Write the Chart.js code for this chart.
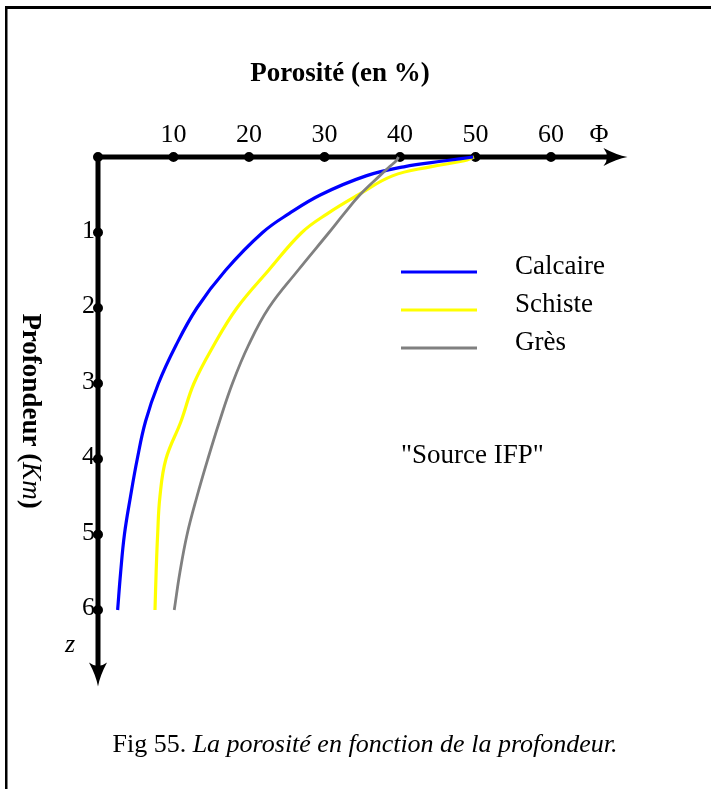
<!DOCTYPE html>
<html>
<head>
<meta charset="utf-8">
<script src="https://cdn.jsdelivr.net/npm/chart.js@4"></script>
<style>
  body { margin: 0; background: #fff; }
  canvas { display: block; }
</style>
</head>
<body>
<canvas id="chartPorosite" width="711" height="789"></canvas>
<script>
// profondeur en km, porosité en %
const profondeurs = [0, 0.05, 0.13, 0.25, 0.5, 0.75, 1, 1.5, 2, 2.5, 3, 3.5, 4, 4.5, 5, 5.5, 6];
const calcaire = [49.7, 46, 40.5, 35.5, 29.5, 25.3, 21.8, 16.9, 13.1, 10.3, 8.0, 6.3, 5.2, 4.3, 3.5, 3.0, 2.6];
const schiste = [49.8, 48.5, 44, 39, 34.5, 30.4, 27.0, 22.6, 18.4, 15.3, 12.7, 11.0, 9.0, 8.2, 7.9, 7.7, 7.55];
const gres = [39.8, 39.5, 38.6, 37.3, 34.7, 32.6, 30.6, 26.5, 22.6, 19.9, 17.8, 16.1, 14.55, 13.1, 11.8, 10.85, 10.1];
const ticksPorosite = [10, 20, 30, 40, 50, 60];
const ticksProfondeur = [1, 2, 3, 4, 5, 6];
const noms = ['Calcaire', 'Schiste', 'Grès'];
const couleurs = ['#0000ff', '#ffff00', '#808080'];

const POLICE = '"Liberation Serif", "DejaVu Serif", serif';

function points(valeurs) {
    return profondeurs.map((p, i) => ({ x: valeurs[i], y: p }));
}

function fleche(ctx, x, y, angle) {
    ctx.save();
    ctx.translate(x, y);
    ctx.rotate(angle);
    ctx.beginPath();
    ctx.moveTo(0, 0);
    ctx.quadraticCurveTo(-11, -2, -24, -9);
    ctx.quadraticCurveTo(-17, 0, -24, 9);
    ctx.quadraticCurveTo(-11, 2, 0, 0);
    ctx.closePath();
    ctx.fill();
    ctx.restore();
}

// axes, flèches, textes
const figurePlugin = {
    id: 'figure',
    beforeDatasetsDraw(chart) {
        const ctx = chart.ctx;
        const sx = chart.scales.x, sy = chart.scales.y;
        const x0 = sx.getPixelForValue(0), y0 = sy.getPixelForValue(0);
        const xFin = sx.getPixelForValue(sx.max), yFin = sy.getPixelForValue(sy.max);

        ctx.save();
        // cadre
        ctx.fillStyle = '#000';
        ctx.fillRect(5, 6, 2.5, 789);
        ctx.fillRect(5, 6, 711, 3);

        ctx.strokeStyle = '#000';
        ctx.lineWidth = 5;
        ctx.beginPath();
        ctx.moveTo(x0, y0);
        ctx.lineTo(xFin - 10, y0);
        ctx.moveTo(x0, y0);
        ctx.lineTo(x0, yFin - 10);
        ctx.stroke();
        fleche(ctx, xFin + 1, y0, 0);
        fleche(ctx, x0, yFin + 1, Math.PI / 2);

        // points de graduation
        ctx.beginPath();
        ctx.arc(x0, y0, 5, 0, Math.PI * 2);
        ticksPorosite.forEach(v => {
            const px = sx.getPixelForValue(v);
            ctx.moveTo(px + 5, y0);
            ctx.arc(px, y0, 5, 0, Math.PI * 2);
        });
        ticksProfondeur.forEach(v => {
            const py = sy.getPixelForValue(v);
            ctx.moveTo(x0 + 5, py);
            ctx.arc(x0, py, 5, 0, Math.PI * 2);
        });
        ctx.fill();

        // étiquettes
        ctx.font = '26px ' + POLICE;
        ctx.textAlign = 'center';
        ctx.textBaseline = 'alphabetic';
        ticksPorosite.forEach(v => {
            ctx.fillText(String(v), sx.getPixelForValue(v), 142);
        });
        ctx.fillText('Φ', 599, 142);
        ctx.textAlign = 'right';
        ticksProfondeur.forEach(v => {
            ctx.fillText(String(v), x0 - 3, sy.getPixelForValue(v) + 5);
        });

        ctx.font = 'italic 26px ' + POLICE;
        ctx.textAlign = 'center';
        ctx.fillText('z', 70, 652);

        // titre de l'axe x
        ctx.font = 'bold 27px ' + POLICE;
        ctx.fillText('Porosité (en %)', 340, 81);

        // titre de l'axe y (vertical)
        ctx.save();
        ctx.translate(30, 411);
        ctx.rotate(Math.PI / 2);
        ctx.textAlign = 'left';
        ctx.textBaseline = 'middle';
        const morceaux = [
            ['bold 27px ', 'Profondeur ('],
            ['italic 27px ', 'Km'],
            ['bold 27px ', ')']
        ];
        let total = 0;
        morceaux.forEach(m => { ctx.font = m[0] + POLICE; total += ctx.measureText(m[1]).width; });
        let pos = -total / 2;
        morceaux.forEach(m => {
            ctx.font = m[0] + POLICE;
            ctx.fillText(m[1], pos, 0);
            pos += ctx.measureText(m[1]).width;
        });
        ctx.restore();

        ctx.restore();
    },
    afterDatasetsDraw(chart) {
        const ctx = chart.ctx;
        ctx.save();
        // légende
        const lignesY = [272, 310, 348];
        noms.forEach((nom, i) => {
            ctx.strokeStyle = couleurs[i];
            ctx.lineWidth = 3;
            ctx.beginPath();
            ctx.moveTo(401, lignesY[i]);
            ctx.lineTo(477, lignesY[i]);
            ctx.stroke();
            ctx.fillStyle = '#000';
            ctx.font = '27px ' + POLICE;
            ctx.textAlign = 'left';
            ctx.textBaseline = 'alphabetic';
            ctx.fillText(nom, 515, lignesY[i] + 2);
        });
        ctx.fillText('"Source IFP"', 401, 463);

        // légende de la figure
        const cap = [['26px ', 'Fig 55. '], ['italic 26px ', 'La porosité en fonction de la profondeur.']];
        let total = 0;
        cap.forEach(m => { ctx.font = m[0] + POLICE; total += ctx.measureText(m[1]).width; });
        let pos = 365 - total / 2;
        cap.forEach(m => {
            ctx.font = m[0] + POLICE;
            ctx.fillText(m[1], pos, 752);
            pos += ctx.measureText(m[1]).width;
        });
        ctx.restore();
    }
};

function carregarGrafico() {
    const ctx = document.getElementById('chartPorosite').getContext('2d');
    const series = [calcaire, schiste, gres];
    const ordres = [1, 2, 0];
    const myChart = new Chart(ctx, {
        type: 'line',
        data: {
            datasets: series.map((s, i) => ({
                label: noms[i],
                data: points(s),
                borderColor: couleurs[i],
                backgroundColor: couleurs[i],
                borderWidth: i === 2 ? 2.8 : 3.2,
                fill: false,
                tension: 0.4, // courbe lissée
                pointRadius: 0,
                clip: false,
                order: ordres[i]
            }))
        },
        options: {
            responsive: false,
            animation: false,
            indexAxis: 'y',
            layout: {
                padding: { left: 98, right: 84.5, top: 157, bottom: 103.5 }
            },
            scales: {
                x: { type: 'linear', min: 0, max: 70, display: false },
                y: { type: 'linear', min: 0, max: 7, reverse: true, display: false }
            },
            plugins: {
                legend: { display: false },
                tooltip: { enabled: false }
            }
        },
        plugins: [figurePlugin]
    });
    window.myChart = myChart;
}

carregarGrafico()
</script>
</body>
</html>
